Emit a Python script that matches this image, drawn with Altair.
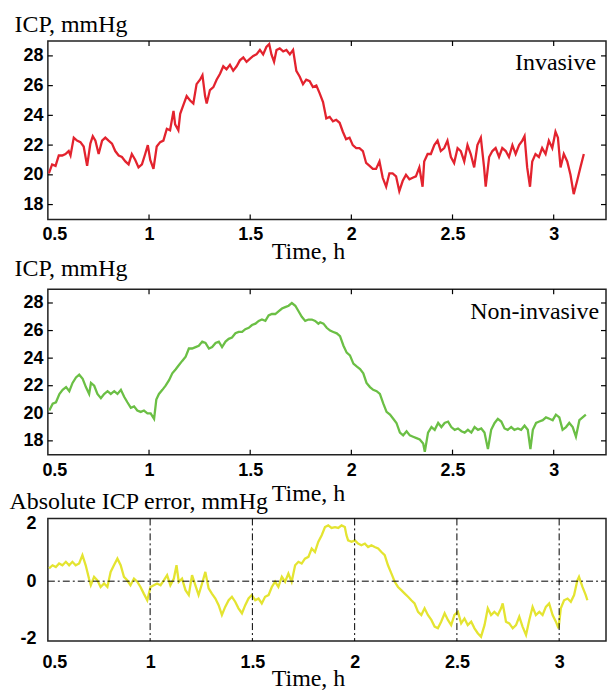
import altair as alt
import pandas as pd

# ---- data ----
inv_t = [0.505, 0.521, 0.538, 0.554, 0.571, 0.587, 0.603, 0.612, 0.628, 0.644,
         0.661, 0.677, 0.694, 0.710, 0.722, 0.735, 0.751, 0.768, 0.784, 0.800,
         0.817, 0.833, 0.850, 0.866, 0.883, 0.899, 0.915, 0.932, 0.948, 0.965,
         0.981, 0.994, 1.006, 1.022, 1.038, 1.055, 1.071, 1.088, 1.104, 1.121,
         1.129, 1.145, 1.154, 1.170, 1.186, 1.203, 1.219, 1.235, 1.252, 1.264,
         1.277, 1.285, 1.301, 1.318, 1.334, 1.351, 1.367, 1.383, 1.400, 1.416,
         1.433, 1.449, 1.466, 1.482, 1.498, 1.515, 1.531, 1.548, 1.564, 1.580,
         1.594, 1.605, 1.618, 1.630, 1.646, 1.663, 1.679, 1.696, 1.712, 1.728,
         1.745, 1.761, 1.777, 1.794, 1.810, 1.827, 1.843,
         1.860, 1.876, 1.893, 1.909, 1.925, 1.942, 1.958, 1.974, 1.991, 2.007,
         2.024, 2.040, 2.057, 2.073, 2.090, 2.106, 2.122, 2.139, 2.155, 2.172,
         2.188, 2.204, 2.221, 2.237, 2.254, 2.270, 2.287, 2.303, 2.319, 2.336,
         2.352, 2.360, 2.377, 2.393, 2.410, 2.426, 2.442, 2.459, 2.475, 2.492,
         2.508, 2.525, 2.541, 2.558, 2.574, 2.590, 2.607, 2.623, 2.640, 2.656,
         2.664, 2.681, 2.697, 2.713, 2.730, 2.746, 2.763, 2.779, 2.796, 2.812,
         2.829, 2.845, 2.856, 2.869, 2.883, 2.894, 2.910, 2.927, 2.943, 2.960,
         2.976, 2.993, 3.009, 3.021, 3.034, 3.050, 3.067, 3.083, 3.099, 3.116,
         3.132, 3.149]
inv_v = [20.1, 20.7, 20.6, 21.3, 21.3, 21.4, 21.6, 21.3, 22.5, 22.3,
         22.2, 21.9, 20.6, 22.1, 22.6, 22.3, 21.4, 22.3, 22.5, 22.3,
         22.1, 21.6, 21.3, 21.2, 20.9, 20.7, 21.4, 21.0, 20.5, 20.7,
         21.4, 22.0, 21.0, 20.4, 21.9, 22.2, 22.3, 23.1, 23.0, 24.3,
         23.4, 23.0, 24.1, 24.7, 25.3, 25.0, 24.8, 26.1, 26.4, 26.7,
         25.3, 24.8, 25.7, 25.9, 26.4, 26.8, 27.3, 27.1, 27.4, 27.0,
         27.3, 27.7, 27.9, 27.6, 27.8, 28.0, 28.1, 28.4, 28.1, 28.6,
         28.8, 28.1, 27.6, 28.4, 28.5, 28.3, 28.4, 28.1, 28.4, 27.0,
         26.6, 26.1, 26.4, 26.3, 25.9, 26.0, 25.5,
         24.9, 23.8, 23.9, 23.6, 23.7, 23.5, 22.9, 22.4, 22.5, 22.0,
         21.8, 21.8, 21.6, 20.8, 20.6, 20.4, 20.4, 20.9, 19.8, 19.2,
         20.1, 20.1, 19.9, 18.9, 19.6, 20.0, 19.7, 19.8, 19.9, 20.5,
         19.2, 20.9, 21.4, 21.4, 22.0, 22.3, 21.6, 21.8, 22.3, 21.2,
         20.8, 21.8, 21.6, 20.9, 22.0, 21.4, 20.5, 22.0, 22.5, 20.5,
         19.2, 21.2, 21.6, 21.8, 21.2, 21.8, 21.6, 21.2, 22.0, 21.4,
         22.0, 22.3, 22.6, 20.5, 19.2, 20.9, 21.4, 21.2, 21.8, 21.4,
         22.3, 21.8, 22.9, 22.5, 20.5, 21.4, 20.9, 20.0, 18.7, 19.6,
         20.5, 21.4]

non_t = [0.507, 0.524, 0.540, 0.557, 0.573, 0.590, 0.606, 0.622, 0.639, 0.655,
         0.672, 0.688, 0.704, 0.713, 0.729, 0.745, 0.762, 0.778, 0.795, 0.811,
         0.828, 0.844, 0.861, 0.877, 0.893, 0.910, 0.926, 0.942, 0.959, 0.975,
         0.992, 1.008, 1.025, 1.036, 1.049, 1.066, 1.082, 1.099, 1.115, 1.132,
         1.148, 1.164, 1.181, 1.197, 1.213, 1.230, 1.246, 1.263, 1.279, 1.296,
         1.312, 1.329, 1.345, 1.361, 1.378, 1.394, 1.410, 1.427, 1.443, 1.460,
         1.476, 1.493, 1.509, 1.526, 1.542, 1.558, 1.575, 1.591, 1.607, 1.624,
         1.640, 1.657, 1.673, 1.690, 1.706, 1.723, 1.739, 1.755, 1.772, 1.788,
         1.805, 1.821, 1.837,
         1.846, 1.862, 1.878, 1.895, 1.911, 1.928, 1.944, 1.961, 1.977, 1.993,
         2.010, 2.026, 2.043, 2.059, 2.075, 2.092, 2.108, 2.125, 2.141, 2.158,
         2.174, 2.191, 2.207, 2.223, 2.240, 2.256, 2.273, 2.289, 2.305, 2.322,
         2.338, 2.355, 2.363, 2.379, 2.396, 2.412, 2.429, 2.445, 2.461, 2.478,
         2.494, 2.511, 2.527, 2.544, 2.560, 2.576, 2.593, 2.609, 2.626, 2.642,
         2.658, 2.675, 2.691, 2.708, 2.724, 2.741, 2.757, 2.773, 2.790, 2.806,
         2.823, 2.839, 2.856, 2.872, 2.885, 2.897, 2.913, 2.929, 2.946, 2.962,
         2.979, 2.995, 3.011, 3.028, 3.044, 3.061, 3.077, 3.094, 3.110, 3.127,
         3.143, 3.159]
non_v = [20.2, 20.7, 20.8, 21.4, 21.7, 21.9, 21.6, 22.2, 22.6, 22.8,
         22.5, 21.9, 21.4, 22.2, 22.0, 21.4, 21.1, 21.4, 21.6, 21.4,
         21.6, 21.4, 21.7, 21.2, 20.8, 20.4, 20.5, 20.2, 20.1, 20.2,
         20.0, 20.0, 19.6, 21.0, 21.4, 21.7, 22.0, 22.4, 22.9, 23.2,
         23.5, 23.8, 24.1, 24.7, 24.7, 24.8, 24.9, 25.2, 25.1, 24.7,
         24.8, 25.1, 25.2, 24.8, 25.2, 25.4, 25.5, 25.8, 25.9, 25.9,
         26.1, 26.2, 26.4, 26.5, 26.7, 26.8, 26.7, 27.1, 27.2, 27.2,
         27.4, 27.6, 27.7, 27.8, 28.0, 27.8, 27.4, 27.0, 26.7, 26.8,
         26.8, 26.7, 26.5,
         26.6, 26.5, 26.2, 26.0, 25.9, 25.8, 25.6, 24.9, 24.4, 24.2,
         23.6, 23.4, 23.2, 22.9, 22.2, 21.9, 21.7, 21.6, 21.4, 20.7,
         20.1, 19.9, 19.6, 19.3, 18.6, 18.4, 18.7, 18.4, 18.3, 18.2,
         18.1, 17.8, 17.2, 18.6, 19.0, 18.8, 19.3, 19.0, 19.3, 19.4,
         19.0, 18.8, 18.9, 18.7, 18.6, 18.8, 18.6, 19.0, 18.8, 18.9,
         18.6, 17.4, 18.8, 19.3, 19.6, 19.4, 18.9, 18.8, 19.0, 18.8,
         18.9, 18.8, 19.1, 18.8, 17.4, 18.8, 19.3, 19.4, 19.5, 19.7,
         19.6, 19.5, 19.9, 19.7, 18.8, 19.0, 19.3, 19.0, 18.3, 19.5,
         19.7, 19.9]

err_t = [0.506, 0.523, 0.539, 0.555, 0.571, 0.588, 0.604, 0.620, 0.636, 0.653,
         0.669, 0.685, 0.701, 0.710, 0.726, 0.742, 0.758, 0.775, 0.791, 0.807,
         0.823, 0.840, 0.856, 0.872, 0.888, 0.904, 0.921, 0.937, 0.953, 0.969,
         0.986, 1.002, 1.018, 1.034, 1.051, 1.067, 1.083, 1.099, 1.116, 1.129,
         1.140, 1.156, 1.173, 1.189, 1.205, 1.221, 1.237, 1.254, 1.270, 1.286,
         1.302, 1.319, 1.335, 1.351, 1.367, 1.384, 1.400, 1.416, 1.432, 1.449,
         1.465, 1.481, 1.497, 1.514, 1.530, 1.546, 1.562, 1.579, 1.595, 1.611,
         1.627, 1.644, 1.660, 1.676, 1.692, 1.709, 1.725, 1.741, 1.757, 1.774,
         1.790, 1.806, 1.822, 1.839, 1.855, 1.871,
         1.887, 1.904, 1.920, 1.936, 1.952, 1.960, 1.968, 1.985, 2.001, 2.017,
         2.033, 2.050, 2.066, 2.082, 2.098, 2.115, 2.131, 2.147, 2.163, 2.180,
         2.196, 2.212, 2.228, 2.245, 2.261, 2.277, 2.293, 2.310, 2.326, 2.342,
         2.358, 2.375, 2.391, 2.407, 2.423, 2.440, 2.456, 2.472, 2.488, 2.505,
         2.521, 2.537, 2.553, 2.570, 2.586, 2.602, 2.618, 2.635, 2.651, 2.667,
         2.683, 2.700, 2.716, 2.724, 2.740, 2.756, 2.773, 2.789, 2.805, 2.821,
         2.838, 2.854, 2.870, 2.886, 2.903, 2.919, 2.935, 2.951, 2.968, 2.984,
         2.997, 3.008, 3.024, 3.041, 3.057, 3.073, 3.089, 3.097, 3.114, 3.130,
         3.138]
err_v = [0.44, 0.55, 0.49, 0.61, 0.55, 0.67, 0.55, 0.67, 0.55, 0.61,
         0.90, 0.55, 0.09, -0.14, 0.15, 0.03, -0.20, -0.08, -0.20, 0.32,
         0.55, 0.78, 0.55, 0.15, 0.03, -0.14, 0.09, -0.02, -0.20, -0.43,
         -0.66, -0.20, -0.14, -0.08, -0.14, 0.03, 0.21, -0.14, 0.09, 0.55,
         -0.02, 0.09, -0.31, -0.48, 0.21, -0.14, -0.48, -0.08, 0.32, -0.25,
         -0.43, -0.60, -0.83, -1.17, -0.89, -0.66, -0.54, -0.71, -0.94, -1.11,
         -0.83, -0.60, -0.48, -0.66, -0.60, -0.77, -0.54, -0.48, -0.20, -0.02,
         -0.20, 0.15, -0.02, 0.26, -0.02, 0.55, 0.67, 0.61, 0.78, 0.84,
         1.13, 1.01, 1.36, 1.59, 1.87, 1.93,
         1.84, 1.87, 1.84, 1.93, 1.87, 1.59, 1.41, 1.36, 1.41, 1.30,
         1.24, 1.30, 1.18, 1.24, 1.18, 1.13, 1.01, 0.90, 0.55, 0.26,
         -0.02, -0.20, -0.31, -0.43, -0.54, -0.66, -0.77, -1.06, -1.17, -0.94,
         -1.17, -1.34, -1.57, -1.63, -1.40, -1.11, -1.34, -1.52, -1.17, -1.06,
         -1.46, -1.29, -1.52, -1.40, -1.63, -1.80, -1.92, -1.52, -0.94, -1.17,
         -1.06, -1.17, -0.94, -0.77, -1.40, -1.46, -1.63, -1.52, -1.23, -1.57,
         -1.86, -1.34, -0.89, -1.17, -1.06, -1.17, -0.89, -0.77, -1.17, -1.40,
         -1.63, -0.94, -0.66, -0.60, -0.71, -0.48, 0.03, 0.15, -0.20, -0.48,
         -0.66]

x_ticks = [0.5, 1, 1.5, 2, 2.5, 3]
inner_x_ticks = [1, 1.5, 2, 2.5, 3]
icp_ticks = [18, 20, 22, 24, 26, 28]
err_ticks = [-2, 0, 2]
err_zero = [0]

# ---- style ----
W = 560
TICK = 5
LABEL_FONT = "Liberation Sans"
TITLE_FONT = "Liberation Serif"
TITLE_SIZE = 24


def axis_kw(label_pad):
    return dict(domain=False, ticks=False, tickSize=0, grid=False,
                labelFont=LABEL_FONT, labelFontSize=18, labelFontWeight="bold",
                labelColor="black", labelPadding=label_pad, labelOverlap=False,
                titleFont=TITLE_FONT, titleFontSize=TITLE_SIZE,
                titleFontWeight="normal", titleColor="black",
                titleBaseline="alphabetic")


def x_axis(label_pad, title_y):
    return alt.Axis(values=x_ticks, format="~g", title="Time, h",
                    labelFlush=True, labelFlushOffset=6,
                    titleX=261, titleY=title_y, titleAlign="center",
                    **axis_kw(label_pad))


def y_axis(values, title, label_pad, title_x, title_y):
    return alt.Axis(values=values, labelExpr="'' + datum.value", title=title,
                    titleAngle=0, titleAlign="left", titleX=title_x,
                    titleY=title_y, **axis_kw(label_pad))


def icp_panel(t, v, color, label, H, label_x, label_y, xtitle_y, xlab_pad, ytitle_y):
    xs = alt.Scale(domain=[0.5, 0.5 + W / 203.0], nice=False, zero=False)
    ys = alt.Scale(domain=[17, 29], nice=False, zero=False)
    xa = x_axis(xlab_pad, xtitle_y)
    ya = y_axis(icp_ticks, "ICP, mmHg", 5, -34, ytitle_y)
    df = pd.DataFrame({"t": t, "v": v})
    line = alt.Chart(df).mark_line(color=color, strokeWidth=2.3, clip=True).encode(
        x=alt.X("t:Q", scale=xs, axis=xa),
        y=alt.Y("v:Q", scale=ys, axis=ya),
    )
    xt = pd.DataFrame({"t": inner_x_ticks})
    yt = pd.DataFrame({"v": icp_ticks})
    rule = dict(color="black", strokeWidth=1.2)
    bottom = alt.Chart(xt).mark_rule(**rule).encode(
        x=alt.X("t:Q", scale=xs, axis=xa), y=alt.value(H), y2=alt.value(H - TICK))
    top = alt.Chart(xt).mark_rule(**rule).encode(
        x=alt.X("t:Q", scale=xs, axis=xa), y=alt.value(0), y2=alt.value(TICK))
    left = alt.Chart(yt).mark_rule(**rule).encode(
        y=alt.Y("v:Q", scale=ys, axis=ya), x=alt.value(0), x2=alt.value(TICK))
    right = alt.Chart(yt).mark_rule(**rule).encode(
        y=alt.Y("v:Q", scale=ys, axis=ya), x=alt.value(W), x2=alt.value(W - TICK))
    txt = alt.Chart(pd.DataFrame({"s": [label]})).mark_text(
        font=TITLE_FONT, fontSize=TITLE_SIZE, align="right", baseline="alphabetic",
        color="black").encode(text="s:N", x=alt.value(label_x), y=alt.value(label_y))
    return alt.layer(line, bottom, top, left, right, txt).properties(width=W, height=H)


p1 = icp_panel(inv_t, inv_v, "#e3232e", "Invasive", 179, W - 10, 29, 39, 6, -10)
p2 = icp_panel(non_t, non_v, "#6bbf45", "Non-invasive", 166, W - 7, 30, 46, 7, -14)

# ---- error panel ----
H3 = 123
xs3 = alt.Scale(domain=[0.5, 0.5 + W / 205.2], nice=False, zero=False)
ys3 = alt.Scale(domain=[-2.07, 2.17], nice=False, zero=False)
xa3 = x_axis(13, 45)
ya3 = y_axis(err_ticks, "Absolute ICP error, mmHg", 12, -39, -10)
err_df = pd.DataFrame({"t": err_t, "v": err_v})
err_line = alt.Chart(err_df).mark_line(color="#e4e431", strokeWidth=2.3, clip=True).encode(
    x=alt.X("t:Q", scale=xs3, axis=xa3),
    y=alt.Y("v:Q", scale=ys3, axis=ya3),
)
vgrid = alt.Chart(pd.DataFrame({"t": inner_x_ticks})).mark_rule(
    color="black", strokeWidth=1, strokeDash=[7, 3, 2, 3]).encode(
    x=alt.X("t:Q", scale=xs3, axis=xa3), y=alt.value(0), y2=alt.value(H3))
hgrid = alt.Chart(pd.DataFrame({"v": err_zero})).mark_rule(
    color="black", strokeWidth=1, strokeDash=[7, 3, 2, 3]).encode(
    y=alt.Y("v:Q", scale=ys3, axis=ya3), x=alt.value(0), x2=alt.value(W))
p3 = alt.layer(err_line, vgrid, hgrid).properties(width=W, height=H3)

lower = alt.vconcat(p2, p3, spacing=64, bounds="flush")
chart = alt.vconcat(p1, lower, spacing=70, bounds="flush").properties(
    padding={"left": 0, "top": 2, "right": 0, "bottom": -3}
).configure_view(stroke="#222222", strokeWidth=1.5)

chart.save("out.html", embed_options={"renderer": "svg", "actions": False})
